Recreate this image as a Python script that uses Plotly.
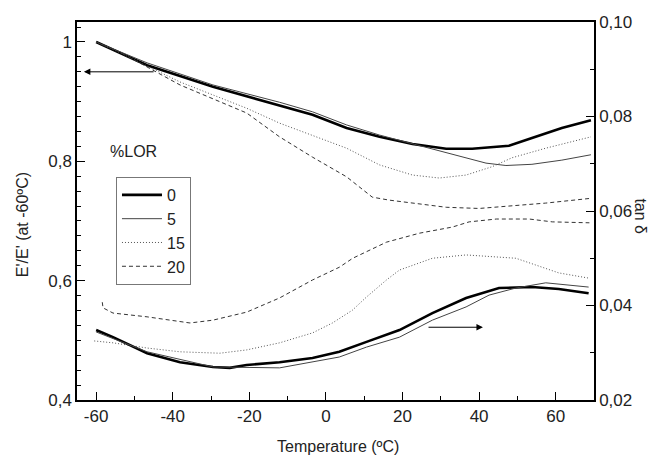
import plotly.graph_objects as go
from plotly.subplots import make_subplots

# modulus ratio E'/E'(-60C), left axis
temp_e_0 = [-60, -46.7, -29.5, -12.1, -3.5, 5.4, 14.0, 22.6, 31.4, 38.2, 43.4, 47.8, 53.8, 61.6, 69.2]
e_0 = [1.0, 0.961, 0.925, 0.894, 0.878, 0.856, 0.841, 0.829, 0.821, 0.821, 0.824, 0.826, 0.839, 0.856, 0.869]

temp_e_5 = [-60, -46.7, -29.5, -12.1, -3.5, 5.4, 14.0, 21.0, 27.0, 35.6, 41.8, 47.0, 53.8, 61.6, 69.2]
e_5 = [1.0, 0.965, 0.928, 0.899, 0.883, 0.861, 0.844, 0.832, 0.822, 0.807, 0.797, 0.793, 0.795, 0.802, 0.811]

temp_e_15 = [-60, -53.8, -38.1, -20.7, -12.1, -3.5, 5.4, 14.0, 22.6, 29.6, 36.6, 43.4, 48.6, 57.4, 69.2]
e_15 = [1.0, 0.982, 0.933, 0.889, 0.864, 0.844, 0.822, 0.794, 0.777, 0.772, 0.777, 0.791, 0.806, 0.822, 0.841]

temp_e_20 = [-60, -53.8, -38.1, -20.7, -12.1, -3.5, 5.4, 12.1, 16.5, 22.6, 31.4, 40.0, 48.6, 57.4, 69.2]
e_20 = [1.0, 0.983, 0.928, 0.881, 0.841, 0.807, 0.774, 0.740, 0.735, 0.730, 0.723, 0.721, 0.725, 0.730, 0.738]

# tan delta, right axis
temp_t_0 = [-60, -55.6, -46.7, -38.1, -29.5, -25.1, -20.7, -12.1, -3.5, 3.5, 10.6, 19.2, 27.8, 36.6, 45.2, 53.8, 60.8, 68.6]
tan_0 = [0.0348, 0.0333, 0.0299, 0.0280, 0.0270, 0.0268, 0.0274, 0.0280, 0.0289, 0.0302, 0.0323, 0.0348, 0.0384, 0.0416, 0.0437, 0.0439, 0.0435, 0.0426]

temp_t_5 = [-60, -46.7, -29.5, -12.1, 3.5, 10.6, 19.2, 27.8, 36.6, 42.6, 49.6, 57.4, 68.6]
tan_5 = [0.0344, 0.0302, 0.0270, 0.0268, 0.0291, 0.0312, 0.0333, 0.0369, 0.0397, 0.0422, 0.0437, 0.0448, 0.0439]

temp_t_15 = [-60.5, -55.6, -46.7, -38.1, -27.7, -20.7, -12.1, -3.5, 1.7, 6.9, 10.6, 15.8, 19.2, 24.4, 27.8, 36.6, 49.6, 60.8, 68.6]
tan_15 = [0.0325, 0.0321, 0.0310, 0.0302, 0.0299, 0.0306, 0.0321, 0.0342, 0.0363, 0.0390, 0.0418, 0.0454, 0.0475, 0.0490, 0.0500, 0.0507, 0.0500, 0.0469, 0.0458]

temp_t_20 = [-58.4, -58.2, -55.6, -46.7, -35.5, -29.5, -20.7, -12.1, -3.5, 3.5, 7.0, 15.8, 24.4, 33.0, 37.4, 44.5, 53.1, 59.1, 68.8]
tan_20 = [0.0407, 0.0395, 0.0384, 0.0376, 0.0363, 0.0369, 0.0386, 0.0416, 0.0454, 0.0481, 0.0500, 0.0534, 0.0553, 0.0566, 0.0577, 0.0583, 0.0583, 0.0577, 0.0575]

labels = ["0", "5", "15", "20"]
x_ticks = [-60, -40, -20, 0, 20, 40, 60]
x_ticklabels = ["-60", "-40", "-20", "0", "20", "40", "60"]

FONT = "Liberation Sans, Arial, sans-serif"
TXT = "#222222"
styles = [
    dict(color="black", width=2.6),
    dict(color="#444444", width=1),
    dict(color="#555555", width=1, dash="1px,2px"),
    dict(color="#333333", width=1, dash="4px,3px"),
]

fig = make_subplots(rows=1, cols=1, specs=[[{"secondary_y": True}]])

upper = [(temp_e_0, e_0), (temp_e_5, e_5), (temp_e_15, e_15), (temp_e_20, e_20)]
lower = [(temp_t_0, tan_0), (temp_t_5, tan_5), (temp_t_15, tan_15), (temp_t_20, tan_20)]

for lab, sty, (tx, ty) in zip(labels, styles, upper):
    fig.add_trace(
        go.Scatter(x=tx, y=ty, mode="lines", name=lab, line=sty, legendgroup=lab),
        row=1, col=1, secondary_y=False,
    )
for lab, sty, (tx, ty) in zip(labels, styles, lower):
    fig.add_trace(
        go.Scatter(x=tx, y=ty, mode="lines", name=lab, line=sty,
                   legendgroup=lab, showlegend=False),
        row=1, col=1, secondary_y=True,
    )

axis_common = dict(
    showline=True, linecolor="black", linewidth=1.5, ticks="inside",
    tickcolor="black", ticklen=8, tickwidth=1.2, showgrid=False, zeroline=False,
    automargin=False,
    tickfont=dict(size=17, color=TXT, family=FONT),
)

fig.update_xaxes(
    domain=[0, 1], range=[-65, 70], tickvals=x_ticks, ticktext=x_ticklabels,
    mirror=True,
    minor=dict(dtick=10, tick0=-60, ticks="inside", ticklen=4, tickcolor="black"),
    **axis_common,
)
fig.update_yaxes(
    range=[0.4, 1.0335], tick0=0.4, dtick=0.2, tickformat=".1~f",
    minor=dict(dtick=0.025, tick0=0.4, ticks="inside", ticklen=4, tickcolor="black"),
    secondary_y=False, **axis_common,
)
fig.update_yaxes(
    range=[0.02, 0.10], tick0=0.02, dtick=0.02, tickformat=".2f",
    minor=dict(dtick=0.01, tick0=0.02, ticks="inside", ticklen=4, tickcolor="black"),
    secondary_y=True, **axis_common,
)

# arrows pointing to the relevant axes
fig.add_annotation(x=-63.2, y=0.950, ax=-44.6, ay=0.950, xref="x", yref="y",
                   axref="x", ayref="y", text="", showarrow=True,
                   arrowhead=2, arrowsize=1.3, arrowwidth=1, arrowcolor="black")
fig.add_annotation(x=41.0, y=0.0354, ax=26.4, ay=0.0354, xref="x", yref="y2",
                   axref="x", ayref="y2", text="", showarrow=True,
                   arrowhead=2, arrowsize=1.3, arrowwidth=1, arrowcolor="black")

title_font = dict(size=16, color=TXT, family=FONT)
fig.add_annotation(x=0.06, y=0.657, xref="paper", yref="paper", text="%LOR",
                   showarrow=False, xanchor="left", yanchor="middle", font=title_font)
fig.add_annotation(x=0.505, y=-0.124, xref="paper", yref="paper",
                   text="Temperature (ºC)", showarrow=False,
                   xanchor="center", yanchor="middle", font=title_font)
fig.add_annotation(x=-0.104, y=0.463, xref="paper", yref="paper",
                   text="E'/E' (at -60ºC)", showarrow=False, textangle=-90,
                   xanchor="center", yanchor="middle", font=title_font)
fig.add_annotation(x=1.09, y=0.487, xref="paper", yref="paper", text="tan δ",
                   showarrow=False, textangle=90,
                   xanchor="center", yanchor="middle", font=title_font)

# the page puts the figure 8px in from the top-left corner
fig.update_layout(
    width=657, height=452,
    margin=dict(l=69, r=71, t=14, b=60),
    plot_bgcolor="white", paper_bgcolor="white",
    separators=",.",
    font=dict(family=FONT, size=16, color=TXT),
    legend=dict(x=0.0754, y=0.59, xanchor="left", yanchor="top",
                bgcolor="white", bordercolor="#777777", borderwidth=1,
                itemwidth=40,
                font=dict(size=16, family=FONT, color=TXT), tracegroupgap=0),
)

fig.write_html("out.html")
